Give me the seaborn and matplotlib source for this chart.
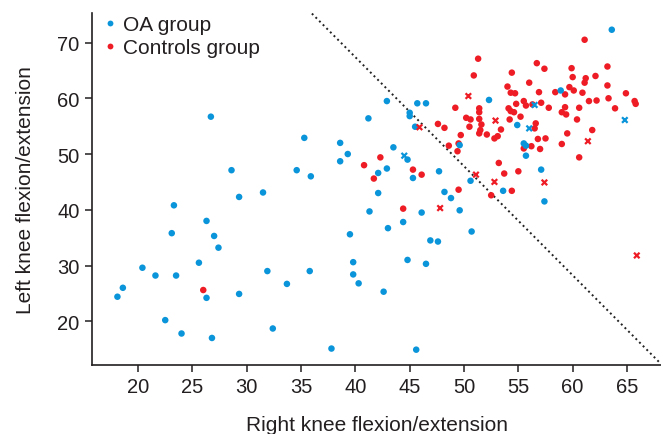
import matplotlib
matplotlib.use("Agg")
import matplotlib.pyplot as plt
import seaborn as sns
import pandas as pd
from matplotlib.lines import Line2D

# OA group: right vs left knee flexion/extension
oa_x = [26.7, 28.6, 29.3, 31.5, 23.3, 26.3, 23.1, 27.0, 27.4, 20.4, 21.6, 23.5, 25.6,
        18.6, 18.1, 26.3, 29.3, 31.9, 33.7, 22.5, 24.0, 26.8, 32.4, 35.8, 39.8, 39.8,
        40.3, 42.6, 44.8, 46.5, 37.8, 45.6, 42.9, 45.7, 46.5, 45.0, 45.0, 41.2, 45.5,
        35.3, 38.6, 39.3, 38.6, 34.6, 35.9, 43.5, 44.8, 42.1, 42.9, 45.3, 47.7, 42.1,
        48.2, 48.8, 41.3, 46.1, 49.6, 44.4, 43.0, 39.5, 46.9, 47.6, 50.7, 49.6, 50.6,
        63.6, 52.3, 58.9, 54.9, 55.5, 55.7, 55.7, 57.1, 53.6, 57.4]
oa_y = [56.7, 47.1, 42.3, 43.1, 40.8, 38.0, 35.8, 35.3, 33.2, 29.6, 28.2, 28.2, 30.5,
        26.0, 24.4, 24.2, 24.9, 29.0, 26.7, 20.2, 17.8, 17.0, 18.7, 29.0, 30.6, 28.4,
        26.8, 25.3, 31.0, 30.3, 15.1, 14.9, 59.5, 59.1, 59.1, 57.4, 56.8, 56.4, 54.9,
        52.9, 52.0, 50.0, 48.7, 47.1, 46.0, 51.2, 49.0, 46.6, 47.4, 45.7, 46.9, 43.0,
        43.2, 42.1, 39.7, 39.5, 39.9, 37.8, 36.7, 35.6, 34.5, 34.3, 36.1, 51.6, 45.2,
        72.3, 59.7, 61.4, 55.2, 51.9, 51.5, 49.7, 47.2, 43.4, 41.5]
oa_cross_x = [44.5, 56.5, 56.0, 64.8]
oa_cross_y = [49.7, 58.8, 54.6, 56.1]

# Controls group
ctrl_x = [26.0, 49.2, 47.6, 48.2, 49.7, 48.6, 49.4, 49.5, 42.3, 40.8, 41.7, 45.3, 46.1,
          49.5, 44.4, 61.1, 51.3, 50.9, 54.4, 56.7, 57.4, 54.0, 54.3, 54.7, 56.0, 56.9,
          55.5, 55.7, 56.3, 57.1, 54.1, 54.3, 54.6, 54.8, 57.8, 58.4, 59.3, 59.7, 60.1,
          59.9, 60.0, 61.1, 61.2, 62.1, 60.9, 61.5, 62.2, 63.2, 63.2, 63.3, 64.9, 65.7,
          65.8, 63.9, 60.6, 59.3, 59.0, 59.4, 60.4, 61.8, 59.5, 59.0, 60.6, 50.2, 50.6,
          51.4, 51.4, 51.4, 51.6, 50.5, 51.4, 51.5, 52.1, 52.8, 53.1, 53.4, 54.2, 55.2,
          56.6, 56.5, 56.8, 57.5, 57.0, 56.2, 55.5, 53.2, 53.7, 55.0, 54.4, 52.5]
ctrl_y = [25.6, 58.3, 55.4, 54.7, 53.4, 51.5, 50.5, 51.9, 49.4, 48.0, 45.6, 47.2, 46.3,
          43.6, 40.2, 70.5, 67.1, 64.1, 64.6, 66.3, 65.3, 62.1, 61.0, 60.9, 62.8, 61.1,
          59.5, 58.7, 58.9, 59.2, 58.2, 57.7, 57.5, 59.0, 58.3, 61.1, 60.7, 62.0, 61.4,
          65.4, 63.8, 62.8, 63.6, 64.0, 61.0, 59.5, 59.6, 65.7, 62.3, 60.0, 60.9, 59.5,
          59.0, 58.2, 58.3, 58.4, 57.5, 57.1, 56.2, 54.3, 53.7, 51.8, 49.4, 56.5, 56.2,
          58.2, 57.5, 56.3, 55.3, 54.9, 53.7, 54.3, 53.5, 52.8, 53.2, 54.4, 56.2, 56.7,
          55.5, 54.6, 52.7, 52.8, 50.9, 51.4, 51.0, 48.4, 46.5, 46.9, 43.4, 42.6]
ctrl_cross_x = [50.4, 45.9, 47.8, 51.1, 52.9, 52.8, 57.4, 61.4, 65.9]
ctrl_cross_y = [60.4, 54.8, 40.3, 46.3, 56.0, 45.0, 44.9, 52.3, 31.8]

# Dotted separating line
diag_x = [36.0, 68.1]
diag_y = [75.2, 12.4]

groups = ["OA group", "Controls group"]
colors = {"OA group": "#0a94d9", "Controls group": "#ee1c25"}

dots = pd.DataFrame({
    "right": ctrl_x + oa_x,
    "left": ctrl_y + oa_y,
    "group": ["Controls group"] * len(ctrl_x) + ["OA group"] * len(oa_x),
})
crosses = pd.DataFrame({
    "right": ctrl_cross_x + oa_cross_x,
    "left": ctrl_cross_y + oa_cross_y,
    "group": ["Controls group"] * len(ctrl_cross_x) + ["OA group"] * len(oa_cross_x),
})

sns.set_style("white")
plt.rcParams["font.family"] = ["Liberation Sans", "DejaVu Sans"]
text_color = "#231f20"

fig = plt.figure(figsize=(6.61, 4.35), dpi=100)
ax = fig.add_axes([92 / 661, 1 - 366 / 435, (661 - 92) / 661, (366 - 14) / 435])

sns.scatterplot(data=dots, x="right", y="left", hue="group", palette=colors,
                s=22, linewidth=0, marker="o", legend=False, ax=ax, zorder=3)
sns.scatterplot(data=crosses, x="right", y="left", hue="group", palette=colors,
                s=16, linewidth=1.6, marker="x", legend=False, ax=ax, zorder=4)

ax.plot(diag_x, diag_y, linestyle=":", color="#222222", linewidth=1.4, zorder=2)

ax.set_xlim(15.76, 68.13)
ax.set_ylim(12.15, 75.3)
ax.set_xticks(list(range(20, 70, 5)))
ax.set_yticks(list(range(20, 80, 10)))

for side in ("top", "right"):
    ax.spines[side].set_visible(False)
for side in ("left", "bottom"):
    ax.spines[side].set_linewidth(1.2)
    ax.spines[side].set_color("#231f20")

ax.tick_params(axis="both", direction="out", length=5, width=1.1, color="#231f20",
               labelsize=14.5, labelcolor=text_color, pad=4,
               left=True, bottom=True)

ax.set_xlabel("Right knee flexion/extension", fontsize=15, color=text_color, labelpad=13)
ax.set_ylabel("Left knee flexion/extension", fontsize=15, color=text_color, labelpad=16)

handles = [Line2D([], [], linestyle="none", marker="o", markersize=4.2,
                  markerfacecolor=colors[g], markeredgewidth=0) for g in groups]
ax.legend(handles, groups, loc="upper left", bbox_to_anchor=(0.0, 1.035),
          frameon=False, fontsize=15, handlelength=0.31, handletextpad=0.47,
          labelspacing=0.19, borderaxespad=0.3, labelcolor=text_color)

fig.savefig("out.png", dpi=100)
